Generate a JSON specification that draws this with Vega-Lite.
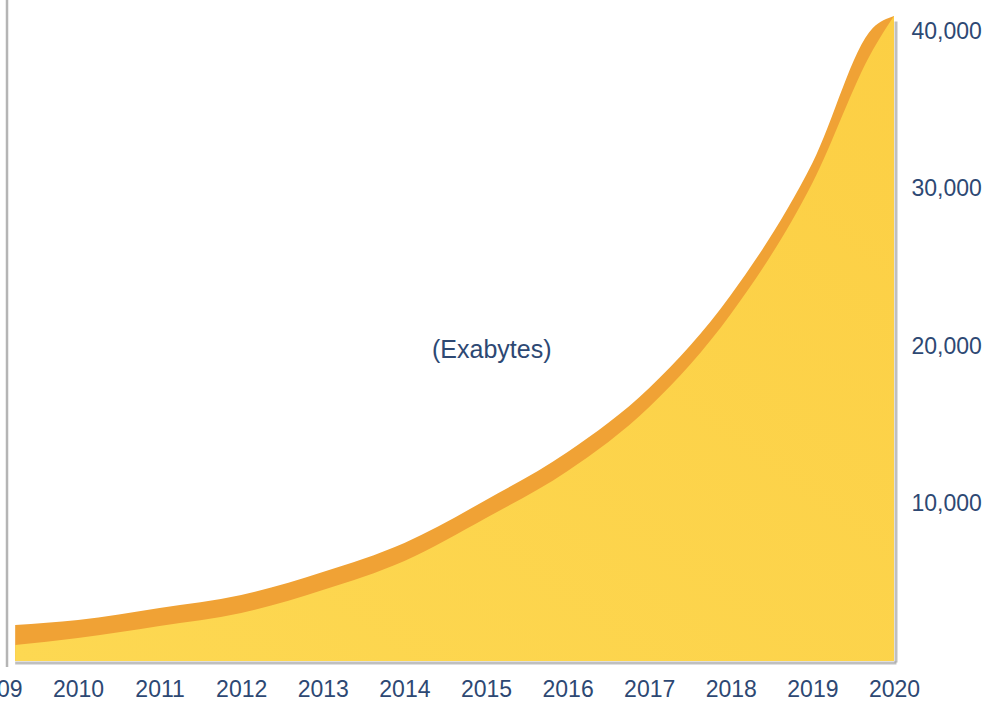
{
  "$schema": "https://vega.github.io/schema/vega-lite/v6.json",
  "width": 897.6,
  "height": 630,
  "autosize": {"type": "none"},
  "padding": {"left": -3.6, "top": 31, "right": 96, "bottom": 42},
  "background": "white",
  "config": {
    "view": {"stroke": null},
    "font": "Liberation Sans Narrow, Liberation Sans, sans-serif"
  },
  "data": {
    "values": [
      {"year": 2009.23, "top": 2286, "inner": 1016},
      {"year": 2010, "top": 2603, "inner": 1460},
      {"year": 2011, "top": 3365, "inner": 2222},
      {"year": 2012, "top": 4190, "inner": 3047},
      {"year": 2013, "top": 5651, "inner": 4508},
      {"year": 2014, "top": 7492, "inner": 6349},
      {"year": 2015, "top": 10222, "inner": 9079},
      {"year": 2016, "top": 13270, "inner": 12063},
      {"year": 2017, "top": 17333, "inner": 16127},
      {"year": 2018, "top": 23238, "inner": 22032},
      {"year": 2019, "top": 31619, "inner": 30349},
      {"year": 2019.74, "top": 40190, "inner": 38794},
      {"year": 2020, "top": 40952, "inner": 40952}
    ]
  },
  "layer": [
    {
      "data": {"values": [{}]},
      "mark": {"type": "rule", "color": "#b5b5b5", "strokeWidth": 2.5},
      "encoding": {
        "x": {"datum": 2009.13, "type": "quantitative"},
        "y": {"datum": 42000, "type": "quantitative"},
        "y2": {"datum": -380}
      }
    },
    {
      "data": {"values": [{}]},
      "mark": {"type": "rule", "color": "#8a8a8a", "strokeWidth": 3, "opacity": 0.55, "yOffset": 2},
      "encoding": {
        "x": {"datum": 2009.23, "type": "quantitative"},
        "x2": {"datum": 2020.03},
        "y": {"datum": 0, "type": "quantitative"}
      }
    },
    {
      "data": {"values": [{}]},
      "mark": {"type": "rule", "color": "#8a8a8a", "strokeWidth": 3, "opacity": 0.55, "xOffset": 2},
      "encoding": {
        "x": {"datum": 2020, "type": "quantitative"},
        "y": {"datum": 40600, "type": "quantitative"},
        "y2": {"datum": -100}
      }
    },
    {
      "mark": {"type": "area", "color": "#F0A235", "interpolate": "monotone"},
      "encoding": {
        "x": {
          "field": "year",
          "type": "quantitative",
          "scale": {"domain": [2009, 2020], "nice": false, "zero": false},
          "axis": {
            "values": [2009, 2010, 2011, 2012, 2013, 2014, 2015, 2016, 2017, 2018, 2019, 2020],
            "format": "d",
            "labelFontSize": 23,
            "labelColor": "#2d4873",
            "labelPadding": 17,
            "labelFlush": false,
            "labelOverlap": false,
            "labelBound": false,
            "domain": false,
            "ticks": false,
            "grid": false,
            "title": null
          }
        },
        "y": {
          "field": "top",
          "type": "quantitative",
          "scale": {"domain": [0, 40000], "nice": false},
          "axis": {
            "orient": "right",
            "values": [10000, 20000, 30000, 40000],
            "format": ",.0f",
            "labelFontSize": 23,
            "labelColor": "#2d4873",
            "labelAlign": "left",
            "labelBaseline": "middle",
            "labelPadding": 17,
            "labelOverlap": false,
            "labelBound": false,
            "domain": false,
            "ticks": false,
            "grid": false,
            "title": null
          }
        }
      }
    },
    {
      "mark": {
        "type": "area",
        "interpolate": "monotone",
        "color": {
          "gradient": "linear",
          "x1": 1, "y1": 0, "x2": 0, "y2": 1,
          "stops": [
            {"offset": 0, "color": "#FCCF44"},
            {"offset": 1, "color": "#FDD852"}
          ]
        }
      },
      "encoding": {
        "x": {"field": "year", "type": "quantitative"},
        "y": {"field": "inner", "type": "quantitative"}
      }
    },
    {
      "data": {"values": [{"label": "(Exabytes)"}]},
      "mark": {"type": "text", "fontSize": 25, "color": "#2d4873", "align": "center", "baseline": "middle"},
      "encoding": {
        "x": {"datum": 2015.07, "type": "quantitative"},
        "y": {"datum": 19750, "type": "quantitative"},
        "text": {"field": "label"}
      }
    }
  ]
}
